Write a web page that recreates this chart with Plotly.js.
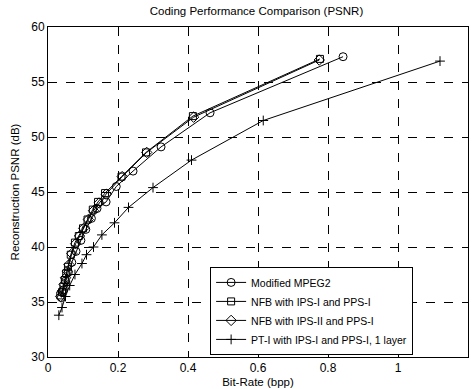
<!DOCTYPE html>
<html>
<head>
<meta charset="utf-8">
<script src="https://cdn.plot.ly/plotly-3.0.1.min.js"></script>
<style>html,body{margin:0;padding:0;background:#fff;}#chart{width:475px;height:389px;}</style>
</head>
<body>
<div id="chart"></div>
<script>
var seriesNames = ["Modified MPEG2", "NFB with IPS-I and PPS-I", "NFB with IPS-II and PPS-I", "PT-I with IPS-I and PPS-I, 1 layer"];

var mpegX = [0.038, 0.044, 0.050, 0.058, 0.068, 0.080, 0.094, 0.108, 0.124, 0.140, 0.166, 0.195, 0.243, 0.323, 0.463, 0.843];
var mpegY = [35.4, 36.1, 36.9, 37.7, 38.6, 39.6, 40.6, 41.6, 42.6, 43.5, 44.1, 45.5, 46.9, 49.1, 52.2, 57.3];

var nfb1X = [0.035, 0.040, 0.044, 0.048, 0.052, 0.057, 0.065, 0.077, 0.088, 0.100, 0.113, 0.128, 0.143, 0.163, 0.210, 0.280, 0.414, 0.777];
var nfb1Y = [35.6, 35.9, 36.4, 37.0, 37.6, 38.2, 39.3, 40.4, 41.0, 41.7, 42.5, 43.4, 44.1, 44.9, 46.4, 48.6, 51.9, 57.1];

var nfb2X = [0.036, 0.041, 0.046, 0.050, 0.055, 0.060, 0.068, 0.079, 0.090, 0.102, 0.115, 0.130, 0.146, 0.166, 0.212, 0.282, 0.416, 0.775];
var nfb2Y = [35.5, 36.0, 36.6, 37.2, 37.8, 38.4, 39.4, 40.3, 41.0, 41.7, 42.5, 43.3, 44.0, 44.8, 46.4, 48.6, 51.8, 57.0];

var ptX = [0.031, 0.040, 0.050, 0.062, 0.077, 0.097, 0.110, 0.130, 0.154, 0.190, 0.230, 0.300, 0.410, 0.615, 1.120];
var ptY = [33.8, 34.5, 35.5, 36.5, 37.5, 38.5, 39.3, 40.0, 41.1, 42.2, 43.6, 45.4, 47.9, 51.5, 56.9];

var xTicks = [0, 0.2, 0.4, 0.6, 0.8, 1, 1.2];
var xTickLabels = ["0", "0.2", "0.4", "0.6", "0.8", "1", "1.2"];
var yTicks = [30, 35, 40, 45, 50, 55, 60];

function tr(x, y, name, sym, size) {
  return {
    x: x, y: y, name: name, type: 'scatter', mode: 'lines+markers',
    line: {color: '#000', width: 1},
    marker: {symbol: sym, size: size, color: '#000', line: {color: '#000', width: 1}}
  };
}

var data = [
  tr(mpegX, mpegY, seriesNames[0], 'circle-open', 8),
  tr(nfb1X, nfb1Y, seriesNames[1], 'square-open', 7),
  tr(nfb2X, nfb2Y, seriesNames[2], 'diamond-open', 8),
  tr(ptX, ptY, seriesNames[3], 'cross-thin-open', 7)
];

var fam = 'Liberation Sans, Arial, sans-serif';
var tickFont = {family: fam, size: 12, color: '#000'};
var labFont = {family: fam, size: 11.5, color: '#000'};

var layout = {
  width: 475, height: 389,
  margin: {l: 48, r: 7, t: 27, b: 32},
  paper_bgcolor: '#fff', plot_bgcolor: '#fff',
  font: labFont,
  showlegend: true,
  title: {text: 'Coding Performance Comparison (PSNR)', font: labFont, x: 0.54, xanchor: 'center', y: 0.972, yanchor: 'middle'},
  xaxis: {
    range: [0, 1.2], tickvals: xTicks, ticktext: xTickLabels,
    showgrid: true, gridcolor: '#000', griddash: 'dash', gridwidth: 1,
    showline: true, linecolor: '#000', linewidth: 1, mirror: 'ticks',
    ticks: 'inside', ticklen: 4, tickcolor: '#000', zeroline: false,
    tickfont: tickFont,
    title: {text: 'Bit-Rate (bpp)', font: labFont, standoff: 3}
  },
  yaxis: {
    range: [30, 60], tickvals: yTicks,
    showgrid: true, gridcolor: '#000', griddash: 'dash', gridwidth: 1,
    showline: true, linecolor: '#000', linewidth: 1, mirror: 'ticks',
    ticks: 'inside', ticklen: 4, tickcolor: '#000', zeroline: false,
    tickfont: tickFont,
    title: {text: 'Reconstruction PSNR (dB)', font: labFont, standoff: 9}
  },
  legend: {
    x: 0.386, y: 0.273, xanchor: 'left', yanchor: 'top',
    bgcolor: '#fff', bordercolor: '#000', borderwidth: 1,
    font: {family: fam, size: 10.5, color: '#000'},
    tracegroupgap: 0, itemwidth: 30
  }
};

Plotly.newPlot('chart', data, layout, {displayModeBar: false, staticPlot: true});
</script>
</body>
</html>
